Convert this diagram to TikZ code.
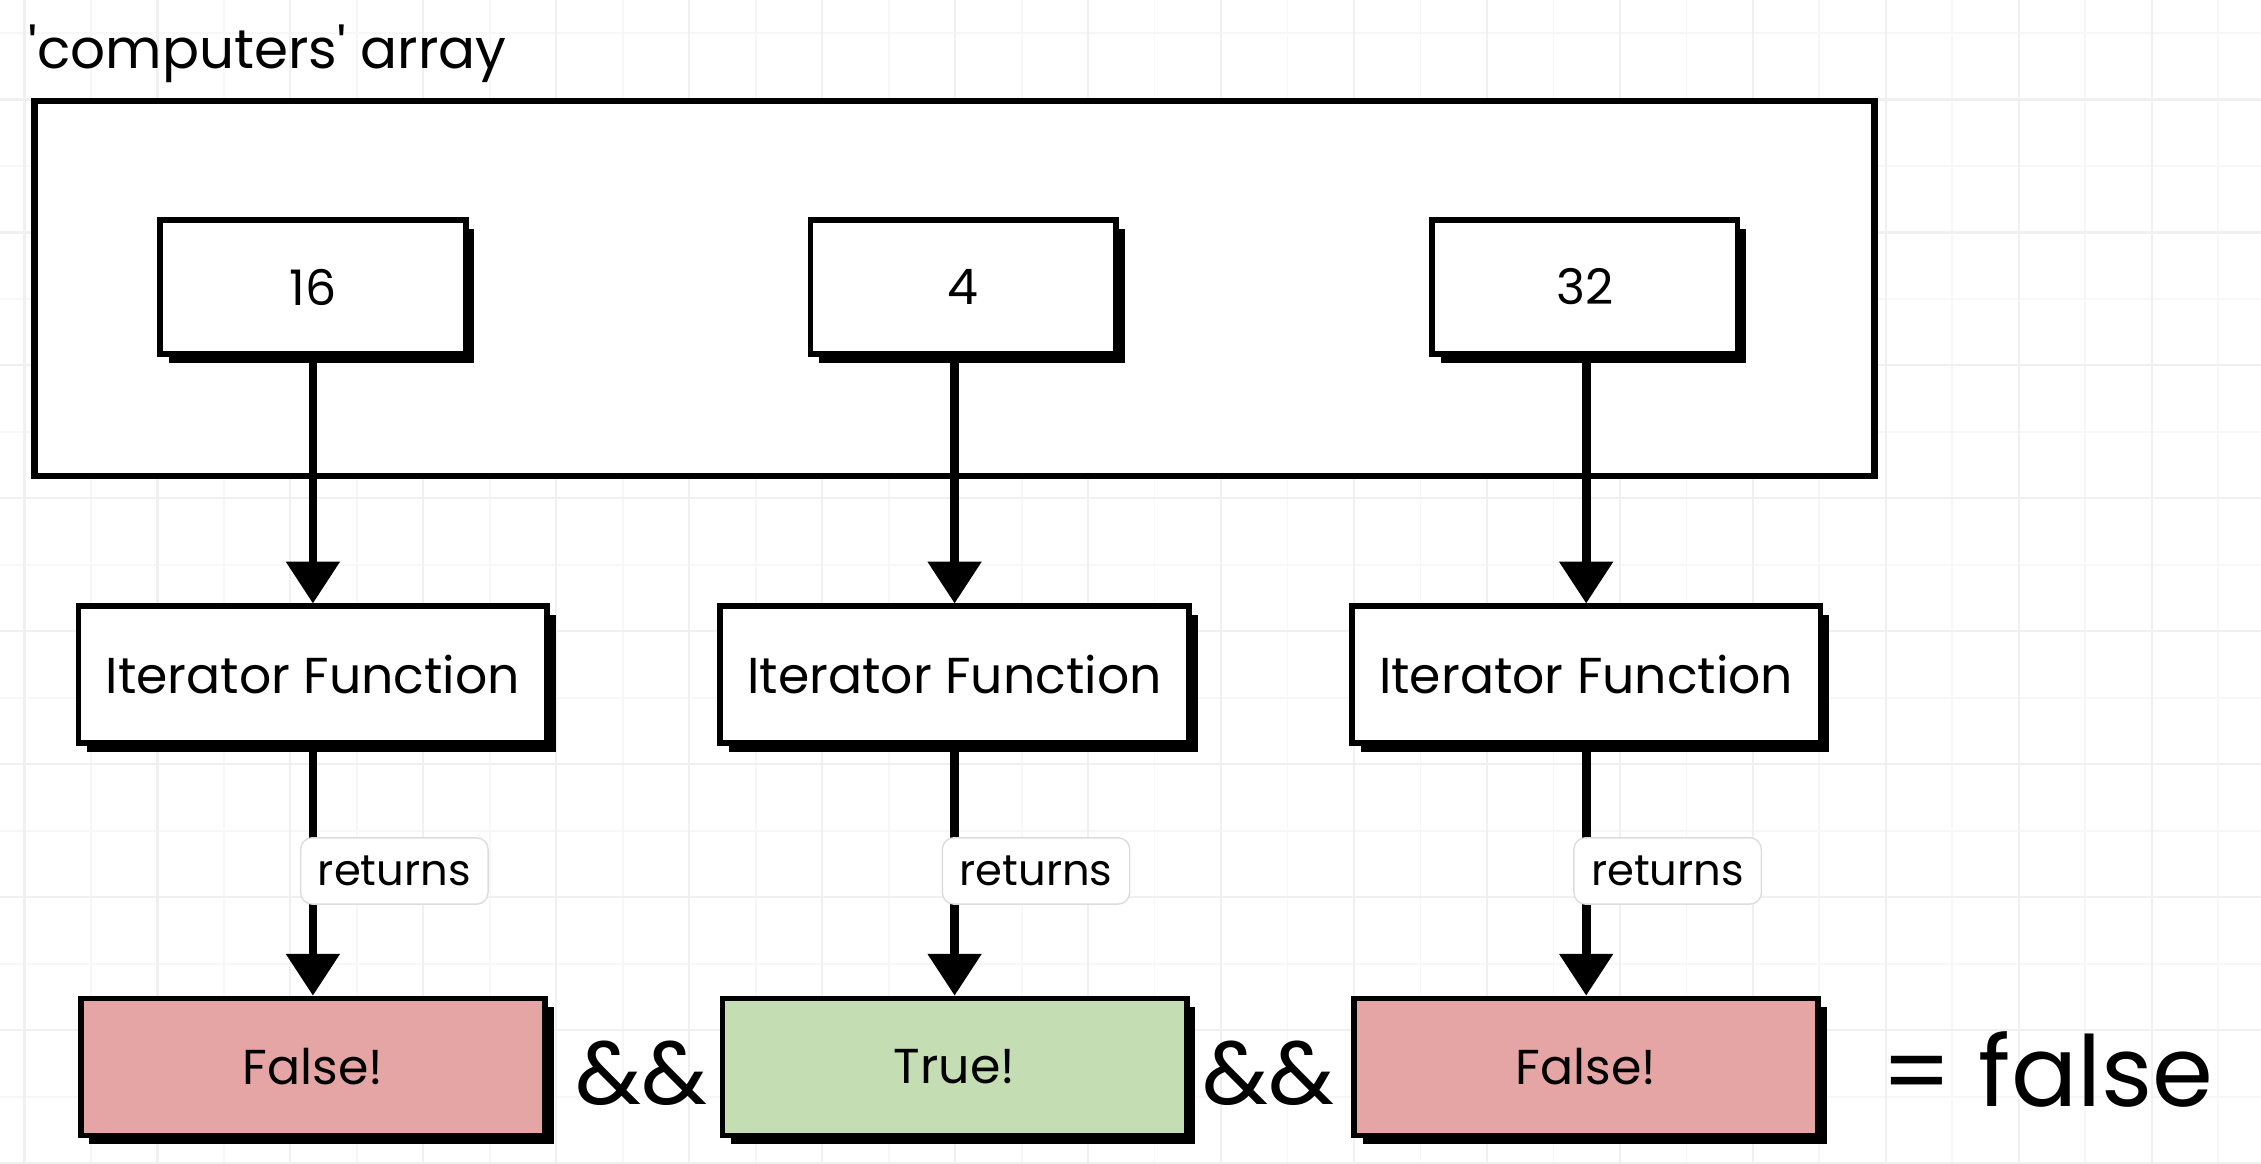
\documentclass[tikz,border=0pt]{standalone}
\usepackage{fontspec}
\setmainfont{Poppins}[Ligatures=TeXOff]
\usetikzlibrary{positioning}
\usetikzlibrary{arrows.meta}
\usetikzlibrary{shadows}
\definecolor{res-false}{HTML}{E6A5A5}
\definecolor{res-true}{HTML}{C4DDB3}
\definecolor{grid-major}{HTML}{F0F0F0}
\definecolor{grid-minor}{HTML}{F7F7F7}
\definecolor{label-edge}{HTML}{DDDDDD}
\tikzset{
  sketch/.style={draw, line width=4pt, inner sep=0pt,
    drop shadow={shadow xshift=6pt, shadow yshift=-6pt, opacity=1, fill=black}},
  val-box/.style={sketch, fill=white, minimum width=212pt, minimum height=93pt,
    font=\fontsize{34}{40}\selectfont},
  iter-box/.style={sketch, fill=white, minimum width=325pt, minimum height=95pt,
    font=\fontsize{35}{42}\selectfont},
  res-box/.style={sketch, fill=#1, minimum width=322pt, minimum height=95pt,
    font=\fontsize{34}{40}\selectfont},
  ret-label/.style={draw=label-edge, line width=1pt, fill=white, rounded corners=8pt,
    inner xsep=12pt, minimum height=46pt, font=\fontsize{30}{36}\selectfont},
  flow/.style={line width=6pt, ->},
  big-text/.style={inner sep=0pt, font=\fontsize{#1}{#1}\selectfont},
}

\begin{document}
\begin{tikzpicture}[x=1pt, y=-1pt, >={Triangle[width=36pt,length=29pt]}]
  \pgfmathsetmacro{\valrow}{199}
  \pgfmathsetmacro{\iterrow}{468}
  \pgfmathsetmacro{\resrow}{740}
  \useasboundingbox (0,0) rectangle (1568,807);

  % background grid
  \foreach \k in {0,...,35} {
    \draw[grid-minor, line width=1.2pt] ({17-46.1+46.1*\k},0) -- ({17-46.1+46.1*\k},807);
  }
  \foreach \k in {0,...,18} {
    \draw[grid-minor, line width=1.2pt] (0,{-23.2+46.1*\k}) -- (1568,{-23.2+46.1*\k});
  }
  \foreach \k in {0,...,17} {
    \draw[grid-major, line width=1.5pt] ({17+92.2*\k},0) -- ({17+92.2*\k},807);
  }
  \foreach \k in {0,...,9} {
    \draw[grid-major, line width=1.5pt] (0,{-23.2+92.2*\k}) -- (1568,{-23.2+92.2*\k});
  }

  % the array
  \node[draw, line width=4.5pt, fill=white, minimum width=1276pt, minimum height=260pt] (arr) at (662, 200) {};
  \node[big-text=38, above right=10pt and -2pt of arr.north west] (arr-title) {'computers' array};

  \foreach \vx/\ix/\val/\res/\tone [count=\n from 1] in {217/217/16/False!/res-false,668/662/4/True!/res-true,1099/1100/32/False!/res-false} {
    \node[val-box] (val\n) at (\vx, \valrow) {\val};
    \node[iter-box] (iter\n) at (\ix, \iterrow) {Iterator Function};
    \node[res-box=\tone] (res\n) at (\ix, \resrow) {\res};
    \draw[flow] (iter\n.north |- val\n.south) -- (iter\n.north);
    \draw[flow] (iter\n.south) -- (res\n.north)
      node[midway, ret-label, anchor=west, xshift=-9pt] (ret\n) {returns};
  }

  % and / result
  \node[big-text=62] (and1) at (445, 744) {\&\&};
  \node[big-text=62] (and2) at (880, 744) {\&\&};
  \node[big-text=68] (total) at (1420, 742) {= false};
\end{tikzpicture}
\end{document}
